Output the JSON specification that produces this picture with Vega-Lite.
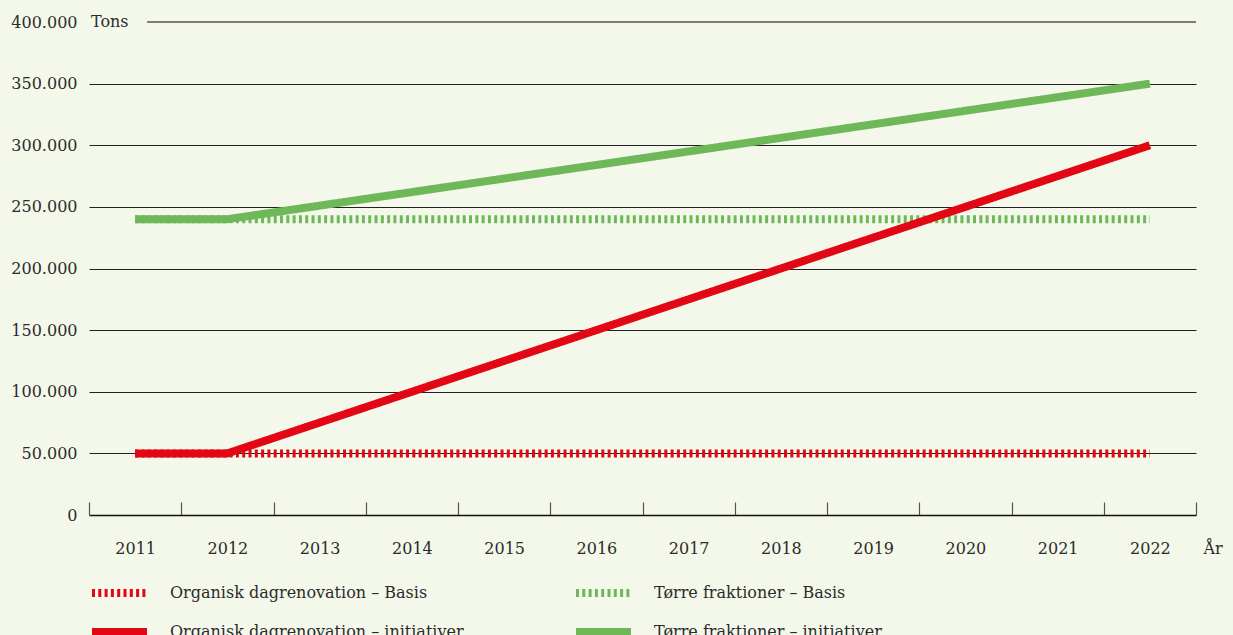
{
  "$schema": "https://vega.github.io/schema/vega-lite/v6.json",
  "width": 1107,
  "height": 493,
  "autosize": "none",
  "padding": {"left": 89, "top": 22, "right": 37, "bottom": 120},
  "background": "#f4f8ea",
  "config": {
    "view": {"stroke": null},
    "font": "DejaVu Serif",
    "text": {"font": "DejaVu Serif"}
  },
  "datasets": {
    "series": [
      {"year": "2011", "value": 50000, "serie": "Organisk dagrenovation – Basis"},
      {"year": "2012", "value": 50000, "serie": "Organisk dagrenovation – Basis"},
      {"year": "2013", "value": 50000, "serie": "Organisk dagrenovation – Basis"},
      {"year": "2014", "value": 50000, "serie": "Organisk dagrenovation – Basis"},
      {"year": "2015", "value": 50000, "serie": "Organisk dagrenovation – Basis"},
      {"year": "2016", "value": 50000, "serie": "Organisk dagrenovation – Basis"},
      {"year": "2017", "value": 50000, "serie": "Organisk dagrenovation – Basis"},
      {"year": "2018", "value": 50000, "serie": "Organisk dagrenovation – Basis"},
      {"year": "2019", "value": 50000, "serie": "Organisk dagrenovation – Basis"},
      {"year": "2020", "value": 50000, "serie": "Organisk dagrenovation – Basis"},
      {"year": "2021", "value": 50000, "serie": "Organisk dagrenovation – Basis"},
      {"year": "2022", "value": 50000, "serie": "Organisk dagrenovation – Basis"},
      {"year": "2011", "value": 240000, "serie": "Tørre fraktioner – Basis"},
      {"year": "2012", "value": 240000, "serie": "Tørre fraktioner – Basis"},
      {"year": "2013", "value": 240000, "serie": "Tørre fraktioner – Basis"},
      {"year": "2014", "value": 240000, "serie": "Tørre fraktioner – Basis"},
      {"year": "2015", "value": 240000, "serie": "Tørre fraktioner – Basis"},
      {"year": "2016", "value": 240000, "serie": "Tørre fraktioner – Basis"},
      {"year": "2017", "value": 240000, "serie": "Tørre fraktioner – Basis"},
      {"year": "2018", "value": 240000, "serie": "Tørre fraktioner – Basis"},
      {"year": "2019", "value": 240000, "serie": "Tørre fraktioner – Basis"},
      {"year": "2020", "value": 240000, "serie": "Tørre fraktioner – Basis"},
      {"year": "2021", "value": 240000, "serie": "Tørre fraktioner – Basis"},
      {"year": "2022", "value": 240000, "serie": "Tørre fraktioner – Basis"},
      {"year": "2011", "value": 50000, "serie": "Organisk dagrenovation – initiativer"},
      {"year": "2012", "value": 50000, "serie": "Organisk dagrenovation – initiativer"},
      {"year": "2013", "value": 75000, "serie": "Organisk dagrenovation – initiativer"},
      {"year": "2014", "value": 100000, "serie": "Organisk dagrenovation – initiativer"},
      {"year": "2015", "value": 125000, "serie": "Organisk dagrenovation – initiativer"},
      {"year": "2016", "value": 150000, "serie": "Organisk dagrenovation – initiativer"},
      {"year": "2017", "value": 175000, "serie": "Organisk dagrenovation – initiativer"},
      {"year": "2018", "value": 200000, "serie": "Organisk dagrenovation – initiativer"},
      {"year": "2019", "value": 225000, "serie": "Organisk dagrenovation – initiativer"},
      {"year": "2020", "value": 250000, "serie": "Organisk dagrenovation – initiativer"},
      {"year": "2021", "value": 275000, "serie": "Organisk dagrenovation – initiativer"},
      {"year": "2022", "value": 300000, "serie": "Organisk dagrenovation – initiativer"},
      {"year": "2011", "value": 240000, "serie": "Tørre fraktioner – initiativer"},
      {"year": "2012", "value": 240000, "serie": "Tørre fraktioner – initiativer"},
      {"year": "2013", "value": 251000, "serie": "Tørre fraktioner – initiativer"},
      {"year": "2014", "value": 262000, "serie": "Tørre fraktioner – initiativer"},
      {"year": "2015", "value": 273000, "serie": "Tørre fraktioner – initiativer"},
      {"year": "2016", "value": 284000, "serie": "Tørre fraktioner – initiativer"},
      {"year": "2017", "value": 295000, "serie": "Tørre fraktioner – initiativer"},
      {"year": "2018", "value": 306000, "serie": "Tørre fraktioner – initiativer"},
      {"year": "2019", "value": 317000, "serie": "Tørre fraktioner – initiativer"},
      {"year": "2020", "value": 328000, "serie": "Tørre fraktioner – initiativer"},
      {"year": "2021", "value": 339000, "serie": "Tørre fraktioner – initiativer"},
      {"year": "2022", "value": 350000, "serie": "Tørre fraktioner – initiativer"}
    ],
    "topline": [{"from": "2011", "to": "2022", "value": 400000, "label": "Tons"}]
  },
  "layer": [
    {
      "data": {"name": "series"},
      "transform": [{"filter": "indexof(datum.serie, 'Basis') >= 0"}],
      "mark": {"type": "line", "strokeWidth": 8},
      "encoding": {
        "x": {
          "field": "year", "type": "ordinal", "bandPosition": 0.5,
          "scale": {"type": "band", "paddingInner": 0, "paddingOuter": 0},
          "axis": {
            "title": "År", "titleAngle": 0, "titleAlign": "left", "titleBaseline": "middle",
            "titleX": 1114, "titleY": 33, "titleFontSize": 16, "titleFontWeight": "normal", "titleColor": "#2b2b2b",
            "labelAngle": 0, "labelFontSize": 16, "labelColor": "#2b2b2b", "labelPadding": 38,
            "tickBand": "extent", "tickSize": -13, "tickColor": "#555", "tickWidth": 1.2,
            "domainColor": "#111", "domainWidth": 1.5, "grid": false
          }
        },
        "y": {
          "field": "value", "type": "quantitative",
          "scale": {"domain": [0, 400000], "nice": false},
          "axis": {
            "title": null, "values": [0, 50000, 100000, 150000, 200000, 250000, 300000, 350000, 400000],
            "labelExpr": "replace(format(datum.value, ','), ',', '.')",
            "labelFontSize": 16, "labelColor": "#2b2b2b", "labelPadding": 12,
            "domain": false, "ticks": false, "grid": true, "gridColor": "#222", "gridWidth": 1,
            "gridOpacity": {"condition": {"test": "datum.value == 400000 || datum.value == 0", "value": 0}, "value": 1}
          }
        },
        "color": {
          "field": "serie", "type": "nominal",
          "scale": {
            "domain": ["Organisk dagrenovation – Basis", "Tørre fraktioner – Basis", "Organisk dagrenovation – initiativer", "Tørre fraktioner – initiativer"],
            "range": ["#e30613", "#6fb85a", "#e30613", "#6fb85a"]
          },
          "legend": {
            "title": null, "orient": "none", "legendX": 21.5, "legendY": 562, "direction": "horizontal",
            "columns": 2, "columnPadding": 95, "rowPadding": 7,
            "values": ["Organisk dagrenovation – Basis", "Tørre fraktioner – Basis", "Organisk dagrenovation – initiativer", "Tørre fraktioner – initiativer"],
            "symbolType": "M-5.5,0H5.5", "symbolSize": 100, "symbolStrokeWidth": 8,
            "labelFontSize": 16, "labelColor": "#2b2b2b", "labelOffset": 41.5, "labelLimit": 400
          }
        },
        "strokeDash": {
          "field": "serie", "type": "nominal",
          "scale": {
            "domain": ["Organisk dagrenovation – Basis", "Tørre fraktioner – Basis", "Organisk dagrenovation – initiativer", "Tørre fraktioner – initiativer"],
            "range": [[3, 3.3], [3, 3.3], [1, 0], [1, 0]]
          },
          "legend": null
        }
      }
    },
    {
      "data": {"name": "series"},
      "transform": [{"filter": "indexof(datum.serie, 'initiativer') >= 0"}],
      "mark": {"type": "line", "strokeWidth": 8},
      "encoding": {
        "x": {"field": "year", "type": "ordinal", "bandPosition": 0.5},
        "y": {"field": "value", "type": "quantitative"},
        "color": {"field": "serie", "type": "nominal"},
        "strokeDash": {"field": "serie", "type": "nominal", "legend": null}
      }
    },
    {
      "data": {"name": "topline"},
      "mark": {"type": "rule", "color": "#555", "strokeWidth": 1.5},
      "encoding": {
        "x": {"field": "from", "type": "ordinal", "bandPosition": 0.63},
        "x2": {"field": "to", "bandPosition": 1},
        "y": {"field": "value", "type": "quantitative"}
      }
    },
    {
      "data": {"name": "topline"},
      "mark": {"type": "text", "align": "left", "baseline": "middle", "dx": 2, "fontSize": 16, "color": "#2b2b2b"},
      "encoding": {
        "x": {"field": "from", "type": "ordinal", "bandPosition": 0},
        "y": {"field": "value", "type": "quantitative"},
        "text": {"field": "label"}
      }
    }
  ]
}
